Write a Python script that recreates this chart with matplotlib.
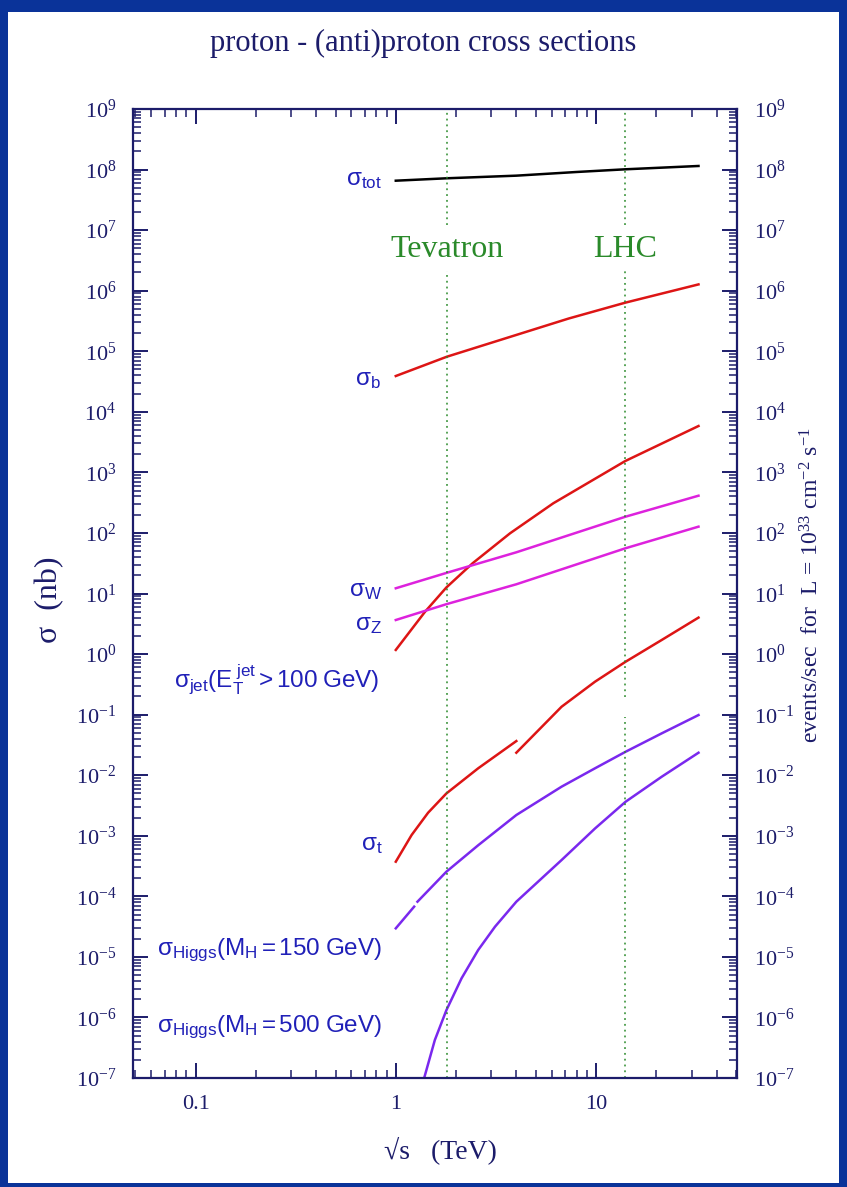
import numpy as np
import matplotlib.pyplot as plt
from matplotlib.patches import Rectangle
from matplotlib.ticker import LogLocator, NullFormatter, FixedLocator, FixedFormatter

plt.rcParams['font.family'] = ['Liberation Serif', 'DejaVu Serif']
plt.rcParams['mathtext.fontset'] = 'custom'
plt.rcParams['mathtext.rm'] = 'Liberation Serif'
plt.rcParams['mathtext.sf'] = 'Liberation Sans'
plt.rcParams['mathtext.it'] = 'Liberation Serif:italic'
plt.rcParams['axes.unicode_minus'] = False

# sqrt(s) in TeV, cross sections in nb
x_tot = [1.0, 1.8, 4.0, 8.0, 14.0, 32.5]
sig_tot = [6.55e7, 7.18e7, 7.93e7, 9.12e7, 1.01e8, 1.146e8]

x_b = [1.0, 1.8, 4.0, 7.3, 14.0, 32.5]
sig_b = [3.9e4, 8.13e4, 1.86e5, 3.47e5, 6.34e5, 1.27e6]

x_jet = [1.0, 1.4, 1.79, 2.42, 3.72, 6.12, 14.0, 32.5]
sig_jet = [1.17, 5.0, 12.6, 31.6, 98.6, 309.0, 1540.0, 5830.0]

x_w = [1.0, 1.8, 4.0, 14.0, 32.5]
sig_w = [12.2, 22.0, 47.9, 185.0, 412.0]

x_z = [1.0, 1.8, 4.0, 14.0, 32.5]
sig_z = [3.65, 6.7, 14.2, 55.7, 127.0]

# top: p-pbar piece and pp piece
x_t1 = [1.0, 1.2, 1.45, 1.79, 2.58, 4.0]
sig_t1 = [3.73e-4, 1.03e-3, 2.4e-3, 5.0e-3, 1.3e-2, 3.66e-2]
x_t2 = [4.0, 6.73, 9.89, 14.06, 21.3, 32.5]
sig_t2 = [2.35e-2, 0.135, 0.35, 0.748, 1.71, 4.0]

x_h150 = [1.0, 1.235, np.nan, 1.283, 1.79, 2.58, 4.0, 6.73, 9.89, 14.06, 21.3, 32.5]
sig_h150 = [2.96e-5, 6.75e-5, np.nan, 8.15e-5, 2.55e-4, 6.97e-4, 2.2e-3, 6.46e-3,
            1.3e-2, 2.44e-2, 4.91e-2, 9.84e-2]

x_h500 = [1.386, 1.567, 1.79, 2.13, 2.58, 3.13, 4.0, 6.73, 9.89, 14.06, 21.3, 32.5]
sig_h500 = [1.0e-7, 4.24e-7, 1.32e-6, 4.42e-6, 1.3e-5, 3.15e-5, 8.15e-5, 3.97e-4,
            1.32e-3, 3.65e-3, 9.44e-3, 2.35e-2]

colliders = ['Tevatron', 'LHC']
collider_energy = [1.8, 14.0]

navy = '#1c1c6a'
lab_blue = '#2020b8'
red = '#dd1515'
magenta = '#dd22dd'
purple = '#7a28ee'
green = '#2a8a2a'

fig = plt.figure(figsize=(8.47, 11.87), dpi=100, facecolor='#0a3399')
fig.patches.append(Rectangle((8 / 847, 4 / 1187), 831 / 847, 1171 / 1187,
                             transform=fig.transFigure, facecolor='white',
                             edgecolor='none', zorder=-1))

ax = fig.add_axes([133 / 847, 109 / 1187, 604 / 847, 969 / 1187])
ax.set_xscale('log')
ax.set_yscale('log')
ax.set_xlim(0.0487, 50.6)
ax.set_ylim(1e-7, 1e9)

lw = 1.8
ax.plot(x_tot, sig_tot, color='black', lw=lw)
ax.plot(x_b, sig_b, color=red, lw=lw)
ax.plot(x_jet, sig_jet, color=red, lw=lw)
ax.plot(x_w, sig_w, color=magenta, lw=lw)
ax.plot(x_z, sig_z, color=magenta, lw=lw)
ax.plot(x_t1, sig_t1, color=red, lw=lw)
ax.plot(x_t2, sig_t2, color=red, lw=lw)
ax.plot(x_h150, sig_h150, color=purple, lw=lw)
ax.plot(x_h500, sig_h500, color=purple, lw=lw)

# collider lines, broken where the names sit
dot = (0, (1.2, 2.6))
ax.axvline(collider_energy[0], ymin=0.8803, ymax=1, color=green, lw=1.1, ls=dot)
ax.axvline(collider_energy[0], ymin=0, ymax=0.8328, color=green, lw=1.1, ls=dot)
ax.axvline(collider_energy[1], ymin=0.8803, ymax=1, color=green, lw=1.1, ls=dot)
ax.axvline(collider_energy[1], ymin=0.3932, ymax=0.8328, color=green, lw=1.1, ls=dot)
ax.axvline(collider_energy[1], ymin=0, ymax=0.3725, color=green, lw=1.1, ls=dot)
for name, e in zip(colliders, collider_energy):
    ax.text(e, 4.7e6, name, color=green, fontsize=23, ha='center', va='center')

# curve labels
lab_kw = dict(color=lab_blue, fontsize=17.5, ha='right', va='center', family='Liberation Sans')
ax.text(0.85, 6.8e7, r'$\mathsf{\sigma_{tot}}$', **lab_kw)
ax.text(0.84, 3.4e4, r'$\mathsf{\sigma_{b}}$', **lab_kw)
ax.text(0.86, 11.0, r'$\mathsf{\sigma_{W}}$', **lab_kw)
ax.text(0.85, 3.0, r'$\mathsf{\sigma_{Z}}$', **lab_kw)
ax.text(0.83, 0.37, r'$\mathsf{\sigma_{jet}(E_T^{\ jet} > 100\ GeV)}$', **lab_kw)
ax.text(0.86, 7.0e-4, r'$\mathsf{\sigma_{t}}$', **lab_kw)
ax.text(0.85, 1.3e-5, r'$\mathsf{\sigma_{Higgs}(M_H = 150\ GeV)}$', **lab_kw)
ax.text(0.85, 7.0e-7, r'$\mathsf{\sigma_{Higgs}(M_H = 500\ GeV)}$', **lab_kw)

# axes styling
for s in ax.spines.values():
    s.set_color(navy)
    s.set_linewidth(1.6)
ax.yaxis.set_major_locator(LogLocator(base=10, numticks=30))
ax.yaxis.set_minor_locator(LogLocator(base=10, subs=np.arange(2, 10), numticks=300))
ax.yaxis.set_minor_formatter(NullFormatter())
ax.xaxis.set_major_locator(FixedLocator([0.1, 1, 10]))
ax.xaxis.set_major_formatter(FixedFormatter(['0.1', '1', '10']))
ax.xaxis.set_minor_locator(LogLocator(base=10, subs=np.arange(2, 10), numticks=100))
ax.xaxis.set_minor_formatter(NullFormatter())
ax.tick_params(which='both', direction='in', top=True, right=True, labelright=True,
               color=navy, labelcolor=navy, labelsize=16)
ax.tick_params(which='major', length=11, width=1.4, pad=12)
ax.tick_params(which='minor', length=6, width=1.1)

fig.text(0.5, 1 - 43 / 1187, 'proton - (anti)proton cross sections', color=navy,
         fontsize=22, ha='center', va='center')
fig.text(440 / 847, 1 - 1150 / 1187, u'\u221as   (TeV)', color=navy,
         fontsize=20, ha='center', va='center')
fig.text(50 / 847, 1 - 600 / 1187, u'\u03c3  (nb)', color=navy, fontsize=23,
         ha='center', va='center', rotation=90)
fig.text(812 / 847, 1 - 585 / 1187,
         r'events/sec  for  L = 10$^{33}$ cm$^{-2}$ s$^{-1}$', color=navy,
         fontsize=17, ha='center', va='center', rotation=90)

fig.savefig('out.png', dpi=100, facecolor=fig.get_facecolor())
